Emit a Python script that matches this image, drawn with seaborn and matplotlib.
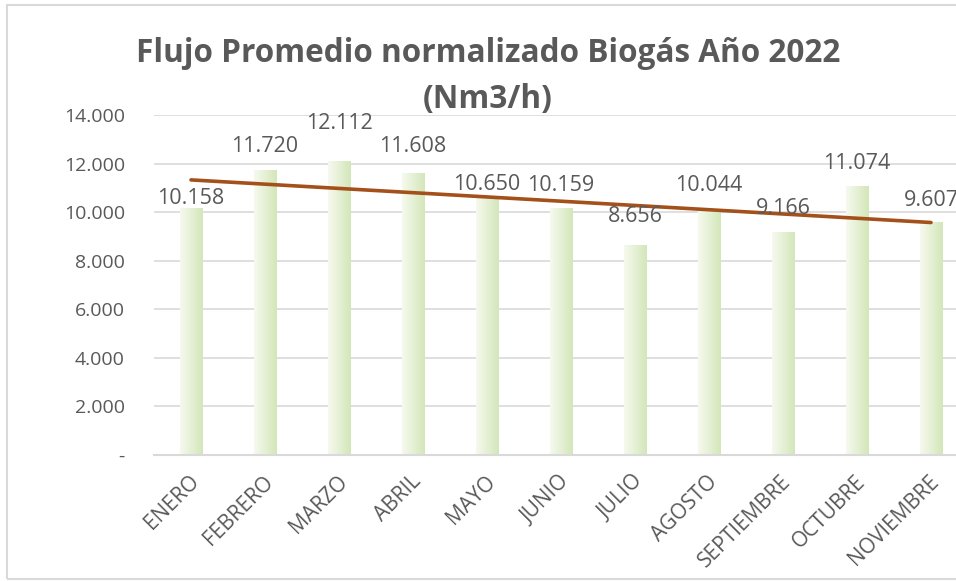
import numpy as np
import matplotlib
matplotlib.use("Agg")
import matplotlib.pyplot as plt
import matplotlib.transforms as mtransforms
import seaborn as sns
from matplotlib.colors import LinearSegmentedColormap
from matplotlib.ticker import FuncFormatter
from matplotlib.patches import Rectangle

# datos (Nm3/h promedio mensual)
meses = ['ENERO', 'FEBRERO', 'MARZO', 'ABRIL', 'MAYO', 'JUNIO', 'JULIO',
         'AGOSTO', 'SEPTIEMBRE', 'OCTUBRE', 'NOVIEMBRE']
flujo = [10158, 11720, 12112, 11608, 10650, 10159, 8656, 10044, 9166, 11074, 9607]
y_ticks = [0, 2000, 4000, 6000, 8000, 10000, 12000, 14000]

# distancia (px) entre el tope de cada barra y el centro de su etiqueta
label_offsets = [12, 26, 40, 29, 14, 25, 31, 28, 26, 25, 24]

GRIS = '#595959'
GRID = '#d9d9d9'

sns.set_theme(style='white')
plt.rcParams['font.family'] = ['Open Sans', 'DejaVu Sans']

fig = plt.figure(figsize=(9.56, 5.81), dpi=100)
ax = fig.add_axes([154 / 956, 1 - 455 / 581, 1 - 154 / 956, (455 - 115) / 581])

sns.barplot(x=meses, y=flujo, color='#dcebc6', width=0.31, ax=ax, zorder=2)

# relleno degradado como en Excel
cmap = LinearSegmentedColormap.from_list('verde', ['#f6faef', '#d3e6b9'])
grad = np.linspace(0, 1, 64).reshape(1, -1)
for p in ax.patches:
    x0, y0, w, h = p.get_x(), p.get_y(), p.get_width(), p.get_height()
    im = ax.imshow(grad, cmap=cmap, extent=[x0, x0 + w, y0, y0 + h],
                   aspect='auto', zorder=2.5, interpolation='bicubic')
    im.set_clip_path(p)
    p.set_edgecolor('none')

# etiquetas de datos
for i, (v, off) in enumerate(zip(flujo, label_offsets)):
    ax.annotate(f'{v:,.0f}'.replace(',', '.'), (i, v), xytext=(0, off * 0.72),
                textcoords='offset points', ha='center', va='center_baseline',
                fontsize=15.5, color=GRIS, zorder=4)

# linea de tendencia lineal
xs = np.arange(len(flujo))
coef = np.polyfit(xs, flujo, 1)
ax.plot(xs, np.polyval(coef, xs), color='#a4501b', lw=2.6, zorder=3,
        solid_capstyle='round')

ax.set_ylim(0, 14000)
ax.set_xlim(-0.5, 10.5 - 12 / 74)
ax.set_yticks(y_ticks)
ax.yaxis.set_major_formatter(FuncFormatter(
    lambda v, _: '-' if v == 0 else f'{v:,.0f}'.replace(',', '.')))
ax.yaxis.grid(True, color=GRID, lw=1.2)
ax.set_axisbelow(True)
for s in ['top', 'right', 'left']:
    ax.spines[s].set_visible(False)
ax.spines['bottom'].set_color(GRID)
ax.spines['bottom'].set_linewidth(1.5)
ax.tick_params(axis='y', length=0, pad=21, labelsize=14, labelcolor=GRIS)
ax.tick_params(axis='x', length=0, pad=17, labelsize=15, labelcolor=GRIS)
shift = mtransforms.ScaledTranslation(5 / 100, 0, fig.dpi_scale_trans)
for t in ax.get_xticklabels():
    t.set_rotation(45)
    t.set_ha('right')
    t.set_va('center')
    t.set_rotation_mode('anchor')
    t.set_transform(t.get_transform() + shift)
ax.set_xlabel('')
ax.set_ylabel('')

fig.text(488 / 956, 1 - 62 / 581, 'Flujo Promedio normalizado Biogás Año 2022',
         ha='center', va='baseline', fontsize=22.7, fontweight='bold', color=GRIS)
fig.text(488 / 956, 1 - 108 / 581, '(Nm3/h)',
         ha='center', va='baseline', fontsize=22.7, fontweight='bold', color=GRIS)

# borde del area del grafico
fig.patches.append(Rectangle((7 / 956, 2 / 581), 1.2, 1 - 7 / 581,
                             transform=fig.transFigure, fill=False,
                             edgecolor=GRID, lw=1.5))

fig.savefig('out.png', dpi=100)
